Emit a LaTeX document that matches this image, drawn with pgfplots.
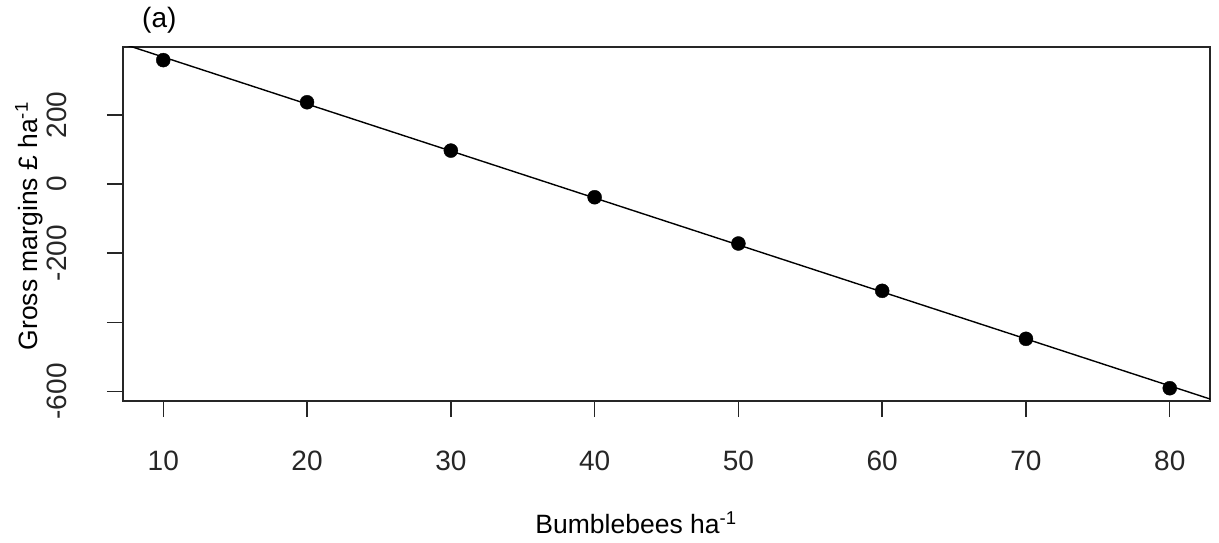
\documentclass[border=0pt]{standalone}
\usepackage{fontspec}
\setmainfont{Liberation Sans}
\usepackage{pgfplots}
\pgfplotsset{compat=1.18}
\begin{document}
\begin{tikzpicture}
\path[use as bounding box] (0,0) rectangle (1219pt,542pt);
\begin{axis}[
  at={(123pt,141pt)}, anchor=south west,
  scale only axis, width=1087pt, height=354pt,
  xmin=7.2, xmax=82.8, ymin=-628, ymax=397,
  axis line style={line width=1.6pt, black!85},
  tick style={line width=1.4pt, black!85},
  tick align=outside, major tick length=16pt,
  xtick pos=left, ytick pos=left,
  xtick={10,20,30,40,50,60,70,80},
  xticklabels={10,20,30,40,50,60,70,80},
  ytick={-600,-400,-200,0,200},
  yticklabels={-600,,-200,0,200},
  ticklabel style={font=\fontsize{28}{32}\selectfont, text=black!85},
  xticklabel style={anchor=north, inner sep=0pt, yshift=-34pt},
  yticklabel style={rotate=90, anchor=south, inner sep=0pt, yshift=40pt},
  xlabel={Bumblebees ha\textsuperscript{-1}},
  ylabel={Gross margins £ ha\textsuperscript{-1}},
  label style={font=\fontsize{26.5}{30}\selectfont},
  xlabel style={at={(axis description cs:0.472,-0.373)}, anchor=base, inner sep=0pt},
  ylabel style={at={(axis description cs:-0.0791,0.494)}, anchor=base, inner sep=0pt},
  clip mode=individual,
]
\addplot[black, line width=1.4pt, forget plot] coordinates {(5,435.9) (85,-652.1)};
\addplot[only marks, mark=*, mark size=7pt, black] coordinates {
  (10,359) (20,237) (30,97) (40,-38) (50,-172) (60,-309) (70,-448) (80,-591)
};
\node[anchor=base west, inner sep=0pt, font=\fontsize{28}{32}\selectfont] at (axis description cs:0.0175,1.054) {(a)};
\end{axis}
\end{tikzpicture}
\end{document}
